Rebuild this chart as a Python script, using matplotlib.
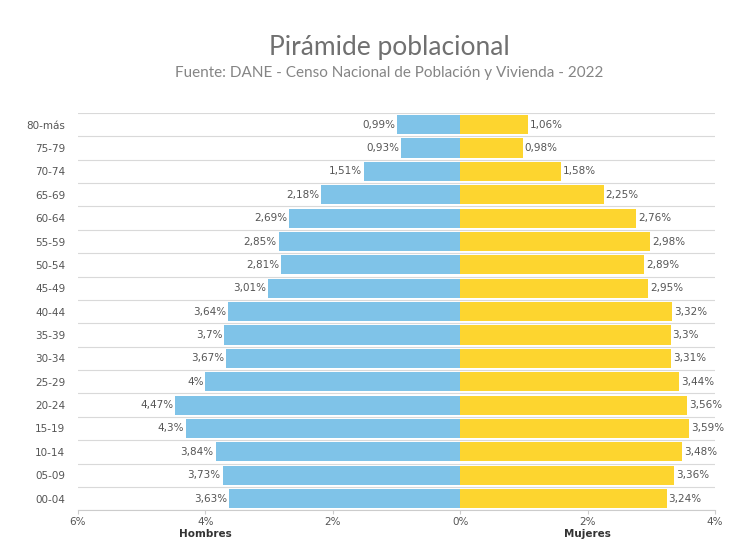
import matplotlib.pyplot as plt
import numpy as np

# data
grupos = ['80-más', '75-79', '70-74', '65-69', '60-64', '55-59', '50-54', '45-49',
          '40-44', '35-39', '30-34', '25-29', '20-24', '15-19', '10-14', '05-09', '00-04']
hombres = [0.99, 0.93, 1.51, 2.18, 2.69, 2.85, 2.81, 3.01,
           3.64, 3.7, 3.67, 4, 4.47, 4.3, 3.84, 3.73, 3.63]
mujeres = [1.06, 0.98, 1.58, 2.25, 2.76, 2.98, 2.89, 2.95,
           3.32, 3.3, 3.31, 3.44, 3.56, 3.59, 3.48, 3.36, 3.24]
ticks = [-6, -4, -2, 0, 2, 4]
tick_labels = ['6%', '4%', '2%', '0%', '2%', '4%']

azul = '#7fc3e8'
amarillo = '#fdd52f'
gris = '#555555'


def fmt(v):
    return f"{v:g}".replace('.', ',') + '%'


fig = plt.figure(figsize=(7.35, 5.54), dpi=100)
ax = fig.add_axes([0.106, 0.079, 0.867, 0.717])

y = np.arange(len(grupos))
ax.barh(y, [-h for h in hombres], height=0.82, color=azul, zorder=2)
ax.barh(y, mujeres, height=0.82, color=amarillo, zorder=2)

for i in range(len(grupos)):
    ax.text(-hombres[i] - 0.03, y[i], fmt(hombres[i]), ha='right', va='center',
            fontsize=7.5, color=gris, zorder=3)
    ax.text(mujeres[i] + 0.03, y[i], fmt(mujeres[i]), ha='left', va='center',
            fontsize=7.5, color=gris, zorder=3)

# lineas entre grupos
for b in np.arange(-0.5, len(grupos), 1):
    ax.axhline(b, color='#d9d9d9', lw=0.8, zorder=1)

ax.set_xlim(-6, 4)
ax.set_ylim(len(grupos) - 0.5, -0.5)
ax.set_yticks(y)
ax.set_yticklabels(grupos)
ax.set_xticks(ticks)
ax.set_xticklabels(tick_labels)
ax.tick_params(axis='y', length=0, labelsize=7.5, labelcolor=gris, pad=9)
ax.tick_params(axis='x', length=3, color='#cccccc', labelsize=7.5, labelcolor=gris, pad=2)
for s in ['top', 'left', 'right']:
    ax.spines[s].set_visible(False)
ax.spines['bottom'].set_color('#cccccc')

ax.text(-4, -0.047, 'Hombres', transform=ax.get_xaxis_transform(), ha='center', va='top',
        fontsize=7.5, fontweight='bold', color='#333333')
ax.text(2, -0.047, 'Mujeres', transform=ax.get_xaxis_transform(), ha='center', va='top',
        fontsize=7.5, fontweight='bold', color='#333333')

fig.text(0.53, 0.915, 'Pirámide poblacional', ha='center', va='center',
         fontsize=19, color='#707070', family='Lato')
fig.text(0.53, 0.868, 'Fuente: DANE - Censo Nacional de Población y Vivienda - 2022',
         ha='center', va='center', fontsize=11, color='#858585', family='Lato')

fig.savefig('out.png', dpi=100)
